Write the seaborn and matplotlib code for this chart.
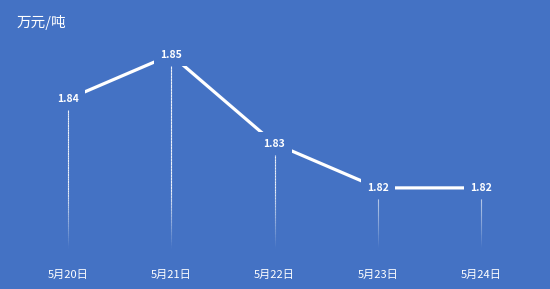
import numpy as np
import pandas as pd
import matplotlib
matplotlib.use("Agg")
import matplotlib.pyplot as plt
import seaborn as sns
from matplotlib.collections import LineCollection

dates = ["5月20日", "5月21日", "5月22日", "5月23日", "5月24日"]
prices = [1.84, 1.85, 1.83, 1.82, 1.82]
unit_label = "万元/吨"

BG = "#4472C4"
sns.set_style("white")
plt.rcParams['font.family'] = ['Noto Sans CJK SC', 'DejaVu Sans']

df = pd.DataFrame({"pos": np.arange(len(dates)), "price": prices})

fig = plt.figure(figsize=(5.5, 2.89), dpi=100, facecolor=BG)
ax = fig.add_axes([16/550, 39/289, 517/550, 220/289])
ax.set_facecolor(BG)

y_bottom = 1.806
sns.lineplot(data=df, x="pos", y="price", ax=ax, color="white", linewidth=2.3, zorder=3)

# gradient drop lines
for x, v in zip(df["pos"], df["price"]):
    top = v - 0.0025
    bot = 1.8065
    ys = np.linspace(top, bot, 60)
    segs = [[(x, ys[i]), (x, ys[i+1])] for i in range(len(ys)-1)]
    mids = (ys[:-1] + ys[1:]) / 2
    alphas = np.clip((mids - 1.8065) / 0.013, 0, 1) * 0.9
    cols = [(1, 1, 1, a) for a in alphas]
    ax.add_collection(LineCollection(segs, colors=cols, linewidths=0.8, zorder=2))

for x, v in zip(df["pos"], df["price"]):
    ax.text(x, v, f"{v:.2f}", ha="center", va="center", color="white",
            fontsize=7.5, fontweight="bold", zorder=5,
            bbox=dict(boxstyle="square,pad=0.6", fc=BG, ec="none"))

ax.set_xlim(-0.5, len(dates) - 0.5)
ax.set_ylim(y_bottom, 1.8556)
ax.set_xticks(df["pos"])
ax.set_xticklabels(dates, color="white", fontsize=8)
ax.tick_params(axis="x", length=0, pad=14)
ax.set_yticks([])
ax.set_xlabel("")
ax.set_ylabel("")
for s in ax.spines.values():
    s.set_visible(False)

fig.text(17/550, 1 - 22/289, unit_label, color="white", fontsize=10.5, va="center", ha="left")

fig.savefig("out.png", dpi=100, facecolor=BG)
